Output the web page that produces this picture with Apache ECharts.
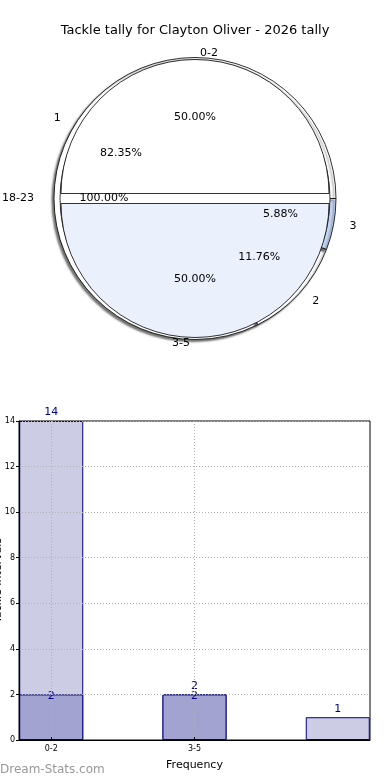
<!DOCTYPE html>
<html>
<head>
<meta charset="utf-8">
<script src="https://cdn.jsdelivr.net/npm/echarts@6/dist/echarts.min.js"></script>
<style>
  html, body { margin: 0; padding: 0; background: #fff; }
  #chart { width: 390px; height: 780px; }
</style>
</head>
<body>
<div id="chart"></div>
<script>
const chartTitle = 'Tackle tally for Clayton Oliver - 2026 tally';

// Pie layers
const rangeNames = ['0-2', '3-5'];
const rangeCounts = [2, 2];
const rangeColors = ['#ffffff', '#eaf0fc'];

const tallyNames = ['1', '2', '3'];
const tallyCounts = [14, 2, 1];
const tallyColors = ['#ffffff', '#ffffff', '#c6d8f6'];

const outerNames = ['18-23'];
const outerCounts = [1];
const outerColors = ['#ffffff'];

// Bar chart
const barPositions = [0, 1, 2];
const barTickLabels = ['0-2', '3-5'];
const barLight = [14, 2, 1];
const barDark = [2, 2, null];
const yTickValues = [0, 2, 4, 6, 8, 10, 12, 14];

const xAxisName = 'Frequency';
const yAxisName = 'Tackle Intervals';
const watermark = 'Dream-Stats.com';

const FONT = 'DejaVu Sans';
const CENTER = [195, 198.5];

const sum = arr => arr.reduce((a, b) => a + b, 0);
function pctFormatter(values) {
  const total = sum(values);
  return p => (p.value / total * 100).toFixed(2) + '%';
}

function pieData(names, values, colors, selected) {
  return names.map((n, i) => ({
    name: n, value: values[i], selected: !!selected,
    itemStyle: { color: colors[i] },
    select: { itemStyle: { color: colors[i], borderColor: '#000', borderWidth: 0.8 } }
  }));
}
function ghostData(names, values) {
  return names.map((n, i) => ({ name: n, value: values[i] }));
}

const pieBase = {
  type: 'pie', center: CENTER, startAngle: 0, clockwise: false,
  avoidLabelOverlap: false, animation: false, silent: true,
  emphasis: { disabled: true }, minAngle: 0,
  itemStyle: { borderColor: '#000', borderWidth: 0.8 },
  label: { show: true, position: 'outside', color: '#000', fontFamily: FONT, fontSize: 11 },
  labelLine: { show: false, length: 10, length2: 0 }
};
const ghostBase = {
  type: 'pie', center: CENTER, startAngle: 0, clockwise: false,
  avoidLabelOverlap: false, animation: false, silent: true,
  emphasis: { disabled: true },
  itemStyle: { color: 'rgba(0,0,0,0)', borderWidth: 0 },
  label: { show: true, position: 'inside', color: '#000', fontFamily: FONT, fontSize: 11 },
  labelLine: { show: false }
};

const option = {
  backgroundColor: '#fff',
  animation: false,
  title: {
    text: chartTitle, left: 'center', top: 19,
    textStyle: { fontFamily: FONT, fontSize: 13, fontWeight: 'normal', color: '#000' }
  },
  graphic: [{
    type: 'text', left: 0, top: 764,
    style: { text: watermark, fontFamily: FONT, fontSize: 12, fontWeight: 'normal', fill: '#999999' }
  }],
  grid: {
    left: 19, right: 20, top: 421, bottom: 40,
    show: true, borderColor: '#000', borderWidth: 1, backgroundColor: 'transparent',
    containLabel: false, outerBoundsMode: 'none'
  },
  xAxis: {
    type: 'value', min: -0.225, max: 2.225, z: 3,
    name: xAxisName, nameLocation: 'middle', nameGap: 20, nameMoveOverlap: false,
    nameTextStyle: { fontFamily: FONT, fontSize: 11, color: '#000' },
    axisLine: { show: true, onZero: false, lineStyle: { color: '#000' } },
    axisTick: { show: true, inside: true, length: 3, lineStyle: { color: '#000' }, customValues: [0, 1] },
    axisLabel: {
      fontFamily: FONT, fontSize: 8, color: '#000', margin: 5, customValues: [0, 1],
      formatter: v => barTickLabels[Math.round(v)] ?? ''
    },
    splitLine: { show: true, lineStyle: { color: '#b0b0b0', type: [1, 2], width: 1 } }
  },
  yAxis: {
    type: 'value', min: 0, max: 14, interval: 2, z: 3,
    name: yAxisName, nameLocation: 'middle', nameGap: 15, nameMoveOverlap: false,
    nameTextStyle: { fontFamily: FONT, fontSize: 11, color: '#000' },
    axisLine: { show: true, onZero: false, lineStyle: { color: '#000' } },
    axisTick: { show: true, inside: false, length: 3, lineStyle: { color: '#000' } },
    axisLabel: { fontFamily: FONT, fontSize: 8, color: '#000', margin: 4,
      formatter: v => yTickValues.includes(v) ? String(v) : '' },
    splitLine: { show: true, lineStyle: { color: '#b0b0b0', type: [1, 2], width: 1 } }
  },
  series: [
    Object.assign({}, pieBase, {
      name: 'tally', radius: [0, 141],
      data: pieData(tallyNames, tallyCounts, tallyColors, false),
      itemStyle: { borderColor: '#000', borderWidth: 0.8, shadowBlur: 2, shadowColor: 'rgba(0,0,0,0.55)', shadowOffsetX: -2, shadowOffsetY: 2 },
      labelLine: { show: false, length: 11, length2: 0 }
    }),
    Object.assign({}, pieBase, {
      name: 'outer', radius: [0, 135],
      data: pieData(outerNames, outerCounts, outerColors, false),
      labelLine: { show: false, length: 21, length2: 0 }
    }),
    Object.assign({}, pieBase, {
      name: 'range', radius: [0, 134], selectedMode: 'multiple', selectedOffset: 5,
      data: pieData(rangeNames, rangeCounts, rangeColors, true),
      labelLine: { show: false, length: 6, length2: 0 }
    }),
    Object.assign({}, ghostBase, { name: 'outerPct', radius: [70, 106], data: ghostData(outerNames, outerCounts),
      label: Object.assign({}, ghostBase.label, { formatter: pctFormatter(outerCounts) }) }),
    Object.assign({}, ghostBase, { name: 'tallyPct', radius: [66, 102], data: ghostData(tallyNames, tallyCounts),
      label: Object.assign({}, ghostBase.label, { formatter: pctFormatter(tallyCounts) }) }),
    Object.assign({}, ghostBase, { name: 'rangePct', radius: [60, 96], data: ghostData(rangeNames, rangeCounts),
      label: Object.assign({}, ghostBase.label, { formatter: pctFormatter(rangeCounts) }) }),
    {
      type: 'bar', name: 'light', barWidth: 64, barGap: '-100%', z: 2,
      data: barPositions.map((x, i) => [x, barLight[i]]),
      itemStyle: { color: '#ccccE4', borderColor: '#000080', borderWidth: 1 },
      label: { show: true, position: 'top', distance: 3, color: '#000080', fontFamily: FONT, fontSize: 11 },
      emphasis: { disabled: true }, silent: true
    },
    {
      type: 'bar', name: 'dark', barWidth: 64, barGap: '-100%', z: 2,
      data: barPositions.map((x, i) => barDark[i] == null ? [x, '-'] : [x, barDark[i]]),
      itemStyle: { color: '#a3a3d1', borderColor: '#000080', borderWidth: 1 },
      label: { show: true, position: 'top', distance: -7, color: '#000080', fontFamily: FONT, fontSize: 11 },
      emphasis: { disabled: true }, silent: true
    }
  ]
};

const chart = echarts.init(document.getElementById('chart'), null, { renderer: 'canvas' });
chart.setOption(option);
</script>
</body>
</html>
